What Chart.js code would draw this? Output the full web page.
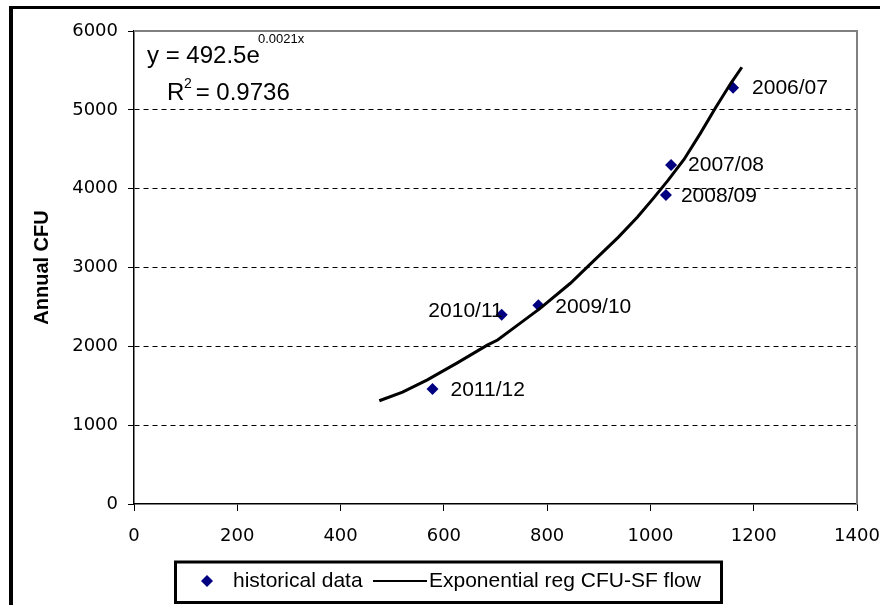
<!DOCTYPE html>
<html>
<head>
<meta charset="utf-8">
<title>Annual CFU vs flow</title>
<script src="https://cdn.jsdelivr.net/npm/chart.js@4.4.1/dist/chart.umd.min.js"></script>
<style>
  html, body { margin: 0; padding: 0; background: #fff; }
  canvas { display: block; }
</style>
</head>
<body>
<canvas id="chart" width="880" height="605"></canvas>
<script>
// Historical data points (season label, SF flow, annual CFU)
const seasons   = ["2006/07", "2007/08", "2008/09", "2009/10", "2010/11", "2011/12"];
const flowSF    = [1160, 1040, 1030, 783, 712, 578];
const annualCFU = [5280, 4300, 3920, 2520, 2400, 1460];

// Exponential regression line
const trendFlow = [475, 520, 568, 626, 684, 704, 748, 787, 845, 880, 938, 975, 1006, 1034, 1065, 1097, 1127, 1156, 1177];
const trendCFU  = [1310, 1420, 1575, 1790, 2015, 2080, 2295, 2485, 2800, 3020, 3385, 3640, 3880, 4105, 4370, 4705, 5035, 5340, 5540];

// Axis ticks
const xTickValues = [0, 200, 400, 600, 800, 1000, 1200, 1400];
const yTickValues = [0, 1000, 2000, 3000, 4000, 5000, 6000];

const NAVY = "#000080";
const LABEL_FONT = "21px 'Liberation Sans', Arial, sans-serif";
const TICK_FONT = { family: "'DejaVu Sans', sans-serif", size: 18 };

// per-label placement: most sit right of the marker, 2010/11 sits left
const labelPlace = {
    "2006/07": { dx: 19, dy: 0, align: "left" },
    "2007/08": { dx: 17, dy: 0, align: "left" },
    "2008/09": { dx: 15, dy: 1, align: "left" },
    "2009/10": { dx: 17, dy: 2, align: "left" },
    "2010/11": { dx: 1, dy: -4, align: "right" },
    "2011/12": { dx: 18, dy: 1, align: "left" }
};

// ── frame, plot border, equation, point labels and legend box ──
const decorations = {
    id: "decorations",
    beforeDraw(chart) {
        const ctx = chart.ctx;
        ctx.save();
        ctx.fillStyle = "#fff";
        ctx.fillRect(0, 0, chart.width, chart.height);
        ctx.fillStyle = "#000";
        ctx.fillRect(9, 6, chart.width - 9, 3);
        ctx.fillRect(9, 6, 4, chart.height - 6);
        ctx.restore();
    },
    beforeDatasetsDraw(chart) {
        const { ctx, chartArea: a } = chart;
        ctx.save();
        ctx.strokeStyle = "#808080";
        ctx.lineWidth = 2;
        ctx.beginPath();
        ctx.moveTo(a.left, a.top);
        ctx.lineTo(a.right, a.top);
        ctx.lineTo(a.right, a.bottom);
        ctx.stroke();
        ctx.restore();
    },
    afterDatasetsDraw(chart) {
        const ctx = chart.ctx;
        ctx.save();
        ctx.fillStyle = "#000";
        ctx.textBaseline = "middle";
        ctx.font = LABEL_FONT;

        // season labels next to the markers
        const meta = chart.getDatasetMeta(0);
        meta.data.forEach((pt, i) => {
            const p = labelPlace[seasons[i]];
            ctx.textAlign = p.align;
            ctx.fillText(seasons[i], pt.x + p.dx, pt.y + p.dy);
        });

        // trendline equation
        ctx.textAlign = "left";
        ctx.textBaseline = "alphabetic";
        ctx.font = "24px 'Liberation Sans', Arial, sans-serif";
        ctx.fillText("y = 492.5e", 147, 63);
        ctx.fillText("R", 167, 100);
        ctx.fillText(" = 0.9736", 189, 100);
        ctx.font = "13px 'Liberation Sans', Arial, sans-serif";
        ctx.fillText("0.0021x", 258, 43);
        ctx.font = "14px 'Liberation Sans', Arial, sans-serif";
        ctx.fillText("2", 184, 88);

        // legend
        ctx.strokeStyle = "#000";
        ctx.lineWidth = 3;
        ctx.strokeRect(175.5, 562, 546, 40.5);
        const ly = 581;
        ctx.fillStyle = NAVY;
        ctx.beginPath();
        ctx.moveTo(207, ly - 6);
        ctx.lineTo(213, ly);
        ctx.lineTo(207, ly + 6);
        ctx.lineTo(201, ly);
        ctx.closePath();
        ctx.fill();
        ctx.fillStyle = "#000";
        ctx.font = LABEL_FONT;
        ctx.textBaseline = "middle";
        ctx.fillText("historical data", 233, ly);
        ctx.lineWidth = 2;
        ctx.beginPath();
        ctx.moveTo(373, ly);
        ctx.lineTo(427, ly);
        ctx.stroke();
        ctx.fillText("Exponential reg CFU-SF flow", 429, ly);
        ctx.restore();
    }
};

new Chart(document.getElementById("chart"), {
    type: "scatter",
    data: {
        datasets: [
            {
                label: "historical data",
                data: flowSF.map((x, i) => ({ x: x, y: annualCFU[i] })),
                pointStyle: "rectRot",
                pointRadius: 6,
                pointHoverRadius: 6,
                backgroundColor: NAVY,
                borderColor: NAVY,
                borderWidth: 0,
                order: 1
            },
            {
                label: "Exponential reg CFU-SF flow",
                data: trendFlow.map((x, i) => ({ x: x, y: trendCFU[i] })),
                showLine: true,
                pointRadius: 0,
                borderColor: "#000",
                borderWidth: 3,
                tension: 0,
                order: 0
            }
        ]
    },
    options: {
        responsive: false,
        animation: false,
        layout: { padding: { left: 0, right: 23, top: 31, bottom: 0 } },
        plugins: {
            legend: { display: false },
            tooltip: { enabled: false }
        },
        scales: {
            x: {
                type: "linear",
                min: 0,
                max: 1400,
                afterBuildTicks: scale => { scale.ticks = xTickValues.map(v => ({ value: v })); },
                afterFit: scale => {
                    scale.height = 101;
                    scale.paddingLeft = 0;
                    scale.paddingRight = 0;
                },
                grid: { drawOnChartArea: false, drawTicks: true, tickLength: 7, tickColor: "#000" },
                border: { display: true, color: "#000", width: 1.5 },
                ticks: { color: "#000", font: TICK_FONT, padding: 15, maxRotation: 0, callback: v => String(v) }
            },
            y: {
                type: "linear",
                min: 0,
                max: 6000,
                afterBuildTicks: scale => { scale.ticks = yTickValues.map(v => ({ value: v })); },
                afterFit: scale => {
                    scale.width = 134;
                    scale.paddingTop = 0;
                    scale.paddingBottom = 0;
                },
                grid: {
                    color: c => (c.tick && c.tick.value > 0 && c.tick.value < 6000) ? "#000" : "rgba(0,0,0,0)",
                    lineWidth: 1,
                    drawTicks: true,
                    tickLength: 6,
                    tickColor: "#000"
                },
                border: { display: true, color: "#000", width: 1.5, dash: [5, 4] },
                ticks: { color: "#000", font: TICK_FONT, padding: 10, callback: v => String(v) },
                title: {
                    display: true,
                    text: "Annual CFU",
                    color: "#000",
                    font: { family: "'Liberation Sans', Arial, sans-serif", size: 20, weight: "bold" },
                    padding: { top: 30, bottom: 0 }
                }
            }
        }
    },
    plugins: [decorations]
});
</script>
</body>
</html>
